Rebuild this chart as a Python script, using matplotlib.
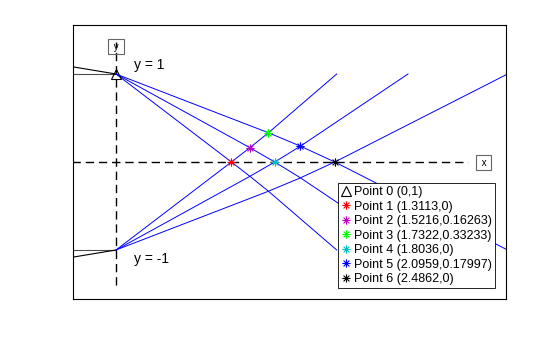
import matplotlib.pyplot as plt
from matplotlib.path import Path

plt.rcParams['font.family'] = ['Liberation Sans', 'DejaVu Sans']

# source points
src_x = [0, 0]
src_y = [1, -1]

# marked intersection points (values from the legend)
pt_x = [1.3113, 1.5216, 1.7322, 1.8036, 2.0959, 2.4862]
pt_y = [0, 0.16263, 0.33233, 0, 0.17997, 0]
pt_colors = ['r', 'm', '#00ff00', 'c', 'b', 'k']
labels = ['Point 0 (0,1)', 'Point 1 (1.3113,0)', 'Point 2 (1.5216,0.16263)',
          'Point 3 (1.7322,0.33233)', 'Point 4 (1.8036,0)',
          'Point 5 (2.0959,0.17997)', 'Point 6 (2.4862,0)']

# rays leaving the lower source (the upper source gives the mirror image)
ray1_x = [0, 1.3113, 1.5216, 1.7322, 2.508]
ray1_y = [-1, 0, 0.16263, 0.33233, 1]
ray2_x = [0, 1.5216, 1.8036, 2.0959, 3.318]
ray2_y = [-1, -0.16263, 0, 0.17997, 1]
ray3_x = [0, 1.7322, 2.0959, 2.4862, 4.45]
ray3_y = [-1, -0.33233, -0.17997, 0, 1]

# incoming rays on the left
in_x = [-0.5, 0]
in_flat_y = [1, 1]
in_slant_y = [1.083, 1]

# axes lines
xaxis_x = [-0.5, 4.0]
yaxis_y = [-1.4, 1.36]

# asterisk marker like matlab '*'
star = Path([(-1, 0), (1, 0), (0, -1), (0, 1), (-.7, -.7), (.7, .7), (-.7, .7), (.7, -.7)],
            [Path.MOVETO, Path.LINETO] * 4)

fig = plt.figure(figsize=(5.6, 3.37), dpi=100)
ax = fig.add_axes([73 / 560, 38 / 337, 433 / 560, 274 / 337])

dash = (6, 3.5)
ax.plot(xaxis_x, [0, 0], color='k', lw=1, dashes=dash)
ax.plot([0, 0], yaxis_y, color='k', lw=1, dashes=dash)

for s in [1, -1]:
    ax.plot(in_x, [s * v for v in in_flat_y], color='0.3', lw=0.8)
    ax.plot(in_x, [s * v for v in in_slant_y], color='k', lw=0.8)
    for rx, ry in [(ray1_x, ray1_y), (ray2_x, ray2_y), (ray3_x, ray3_y)]:
        ax.plot(rx, [-s * v for v in ry], color='b', lw=0.7)

ax.plot(src_x[0], src_y[0], marker='^', ls='none', mfc='none', mec='k',
        ms=7, mew=0.8, label=labels[0])
for i in range(len(pt_x)):
    ax.plot(pt_x[i], pt_y[i], marker=star, ls='none', color=pt_colors[i],
            ms=6, mew=0.8, label=labels[i + 1])

ax.text(0.2, 1.1, 'y = 1', fontsize=10, va='center')
ax.text(0.2, -1.1, 'y = -1', fontsize=10, va='center')
ax.text(0, 1.31, ' y ', fontsize=7, ha='center', va='center',
        bbox=dict(boxstyle='square,pad=0.25', fc='none', ec='0.4', lw=0.8))
ax.text(4.18, -0.01, ' x ', fontsize=7, ha='center', va='center',
        bbox=dict(boxstyle='square,pad=0.25', fc='none', ec='0.4', lw=0.8))

ax.set_xlim(-0.489, 4.432)
ax.set_ylim(-1.557, 1.557)
ax.set_xticks([])
ax.set_yticks([])
for sp in ax.spines.values():
    sp.set_linewidth(0.8)

leg = ax.legend(loc='lower right', fontsize=9, fancybox=False, edgecolor='k',
                framealpha=1, handlelength=0.7, handletextpad=0.35, borderpad=0.25,
                labelspacing=0.2, borderaxespad=0.85)
leg.get_frame().set_linewidth(0.6)

fig.savefig('out.png', dpi=100)
